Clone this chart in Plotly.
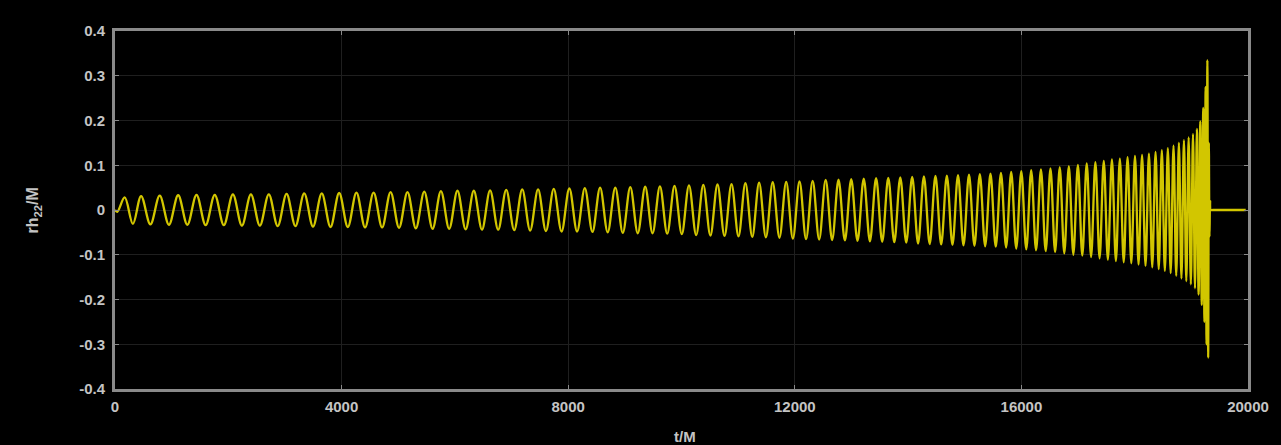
import plotly.graph_objects as go

# ---- data (extrema of the waveform) ----
start_t = [0, 40]
start_h = [0.0, -0.004]

peak_t = [171, 461, 789, 1115, 1439, 1761, 2081, 2399, 2715, 3029,
          3340, 3650, 3957, 4262, 4565, 4865, 5163, 5459, 5753, 6045,
          6334, 6621, 6906, 7188, 7468, 7745, 8020, 8293, 8563, 8831,
          9096, 9359, 9619, 9877, 10132, 10385, 10635, 10883, 11128, 11370,
          11610, 11848, 12083, 12315, 12545, 12772, 12996, 13217, 13435, 13650,
          13862, 14072, 14279, 14483, 14684, 14881, 15075, 15266, 15454, 15639,
          15820, 15998, 16173, 16345, 16513, 16677, 16837, 16997, 17153, 17306,
          17454, 17598, 17738, 17874, 18005, 18130, 18251, 18368, 18479, 18585,
          18685, 18780, 18869, 18952, 19029, 19098, 19158, 19210, 19252, 19283]
peak_h = [0.028, 0.031, 0.032, 0.033, 0.034, 0.034, 0.035, 0.035, 0.035, 0.036,
          0.037, 0.037, 0.038, 0.039, 0.039, 0.040, 0.040, 0.041, 0.042, 0.043,
          0.043, 0.044, 0.045, 0.046, 0.046, 0.047, 0.048, 0.049, 0.050, 0.050,
          0.051, 0.052, 0.053, 0.054, 0.055, 0.056, 0.057, 0.058, 0.060, 0.061,
          0.062, 0.063, 0.064, 0.065, 0.067, 0.068, 0.069, 0.070, 0.071, 0.072,
          0.073, 0.074, 0.075, 0.076, 0.077, 0.078, 0.079, 0.080, 0.081, 0.083,
          0.085, 0.087, 0.089, 0.091, 0.093, 0.096, 0.098, 0.101, 0.104, 0.107,
          0.110, 0.113, 0.115, 0.118, 0.121, 0.123, 0.126, 0.130, 0.134, 0.138,
          0.144, 0.150, 0.156, 0.162, 0.170, 0.181, 0.198, 0.228, 0.275, 0.335]

trough_t = [316, 625, 952, 1277, 1600, 1921, 2240, 2557, 2872, 3185,
            3495, 3804, 4110, 4414, 4715, 5014, 5311, 5606, 5899, 6190,
            6478, 6764, 7047, 7328, 7607, 7883, 8157, 8428, 8697, 8964,
            9228, 9489, 9748, 10005, 10259, 10510, 10759, 11006, 11249, 11490,
            11729, 11966, 12199, 12430, 12659, 12884, 13107, 13326, 13543, 13756,
            13967, 14176, 14381, 14584, 14783, 14978, 15171, 15360, 15547, 15730,
            15909, 16086, 16259, 16429, 16595, 16757, 16917, 17075, 17230, 17380,
            17526, 17668, 17806, 17940, 18068, 18191, 18310, 18424, 18532, 18635,
            18733, 18825, 18911, 18991, 19064, 19128, 19184, 19231, 19268, 19297]
trough_h = [-0.031, -0.032, -0.033, -0.033, -0.034, -0.034, -0.035, -0.035, -0.036, -0.036,
            -0.037, -0.038, -0.038, -0.039, -0.039, -0.040, -0.041, -0.042, -0.042, -0.043,
            -0.044, -0.044, -0.045, -0.046, -0.047, -0.048, -0.048, -0.049, -0.050, -0.051,
            -0.052, -0.052, -0.053, -0.054, -0.056, -0.057, -0.058, -0.059, -0.060, -0.061,
            -0.062, -0.064, -0.065, -0.066, -0.067, -0.068, -0.069, -0.070, -0.071, -0.072,
            -0.073, -0.075, -0.076, -0.077, -0.078, -0.079, -0.080, -0.081, -0.082, -0.084,
            -0.086, -0.088, -0.090, -0.092, -0.094, -0.097, -0.100, -0.102, -0.105, -0.108,
            -0.111, -0.114, -0.117, -0.119, -0.122, -0.125, -0.128, -0.132, -0.136, -0.141,
            -0.147, -0.153, -0.159, -0.166, -0.175, -0.189, -0.212, -0.250, -0.300, -0.330]

ring_t = [19309, 19320, 19331, 19342, 19380, 19600, 19900, 19960]
ring_h = [0.15, -0.06, 0.02, 0.0, 0.0, 0.0, 0.0, 0.0]

x_ticks = [0, 4000, 8000, 12000, 16000, 20000]
x_tick_labels = ["0", "4000", "8000", "12000", "16000", "20000"]
y_ticks = [-0.4, -0.3, -0.2, -0.1, 0, 0.1, 0.2, 0.3, 0.4]
y_tick_labels = ["-0.4", "-0.3", "-0.2", "-0.1", "0", "0.1", "0.2", "0.3", "0.4"]

# assemble the series in time order
t = list(start_t)
h = list(start_h)
for pt, ph, qt, qh in zip(peak_t, peak_h, trough_t, trough_h):
    t += [pt, qt]
    h += [ph, qh]
t += ring_t
h += ring_h

fig = go.Figure()
fig.add_trace(go.Scatter(
    x=t, y=h, mode="lines",
    line=dict(color="#d2c600", width=2.3, shape="spline", smoothing=1.0),
    showlegend=False, hoverinfo="skip",
))

frame = "#8a8a8a"
font_family = "Liberation Sans, Arial, sans-serif"
tickfont = dict(family=font_family, size=15, color="#c4c4c4", weight="bold")

fig.update_layout(
    width=1281, height=445,
    margin=dict(l=115, r=26, t=31, b=56),
    paper_bgcolor="#000000", plot_bgcolor="#000000",
    xaxis=dict(
        range=[0, 20000], tickvals=x_ticks, ticktext=x_tick_labels,
        showgrid=True, gridcolor="#1f1f1f", gridwidth=1,
        zeroline=False, showline=True, linecolor=frame, linewidth=3,
        mirror="ticks", ticks="inside", ticklen=4, tickcolor=frame,
        tickfont=tickfont, ticklabelstandoff=2,
    ),
    yaxis=dict(
        range=[-0.4, 0.4], tickvals=y_ticks, ticktext=y_tick_labels,
        showgrid=True, gridcolor="#1f1f1f", gridwidth=1,
        zeroline=False, showline=True, linecolor=frame, linewidth=3,
        mirror="ticks", ticks="inside", ticklen=4, tickcolor=frame,
        tickfont=tickfont, ticklabelstandoff=4,
    ),
    annotations=[
        dict(text="t/M", xref="paper", yref="paper", x=0.503, y=-0.103,
             xanchor="center", yanchor="top", showarrow=False,
             font=dict(family=font_family, size=15, color="#c4c4c4", weight="bold")),
        dict(text="rh<sub>22</sub>/M", xref="paper", yref="paper", x=-0.072, y=0.5,
             xanchor="center", yanchor="middle", textangle=-90, showarrow=False,
             font=dict(family=font_family, size=16, color="#c4c4c4", weight="bold")),
    ],
)

fig.write_html("out.html")
